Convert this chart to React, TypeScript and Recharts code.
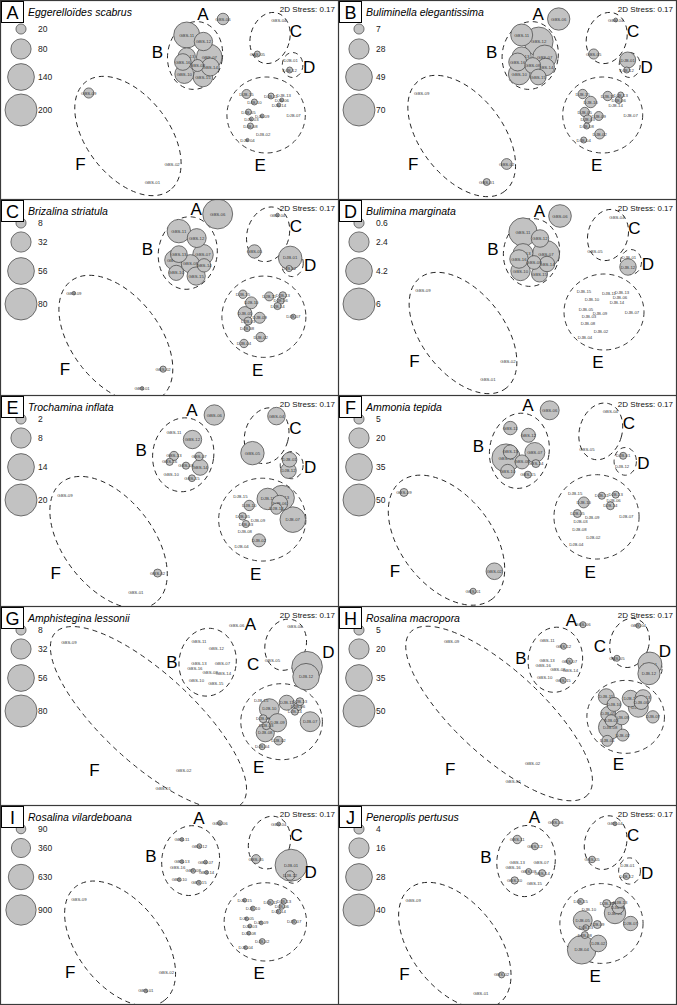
import React from "react";
import { ScatterChart, Scatter, XAxis, YAxis, ZAxis, ReferenceArea } from "recharts";

// nMDS sample coordinates (2D stress 0.17)
const samples = [
  "GBS-01", "GBS-02", "GBS-04", "GBS-05", "GBS-06", "GBS-07", "GBS-08", "GBS-09",
  "GBS-10", "GBS-11", "GBS-12", "GBS-13", "GBS-14", "GBS-15", "GBS-16",
  "DJB-01", "DJB-02", "DJB-03", "DJB-04", "DJB-05", "DJB-06", "DJB-07", "DJB-08",
  "DJB-09", "DJB-10", "DJB-11", "DJB-12", "DJB-13", "DJB-14", "DJB-15",
];
const mds1 = [
  -1.0, -0.6, 1.58, 1.14, 0.44, 0.16, -0.08, -2.3, -0.35, -0.3, 0.04, -0.3, 0.18, 0.03, -0.38,
  1.82, 1.26, 1.02, 0.94, 0.96, 1.64, 1.88, 1.0, 1.24, 1.08, 1.42, 1.8, 1.68, 1.58, 0.92,
];
const mds2 = [
  -1.58, -1.22, 1.66, 0.98, 1.68, 0.92, 0.75, 0.2, 0.58, 1.36, 1.23, 0.93, 0.72, 0.52, 0.82,
  0.86, -0.62, -0.32, -0.74, -0.18, 0.06, -0.24, -0.46, -0.26, 0.02, 0.14, 0.66, 0.16, -0.04, 0.18,
];

// abundances per species, same order as samples
const eggerelloidesScabrus = [0, 0, 0, 7, 26, 128, 28, 20, 70, 132, 66, 59, 63, 75, 54, 0, 0, 3, 2, 7, 3, 0, 7, 3, 7, 7, 7, 0, 3, 16];
const buliminellaElegantissima = [3.3, 8, 1, 7, 34, 39, 17, 0, 32, 33, 57, 25, 21, 17, 22, 17.5, 6.8, 4.4, 2.5, 6, 3.3, 0, 2.5, 5.5, 9, 6, 2.5, 2.5, 0, 6];
const brizalinaStriatula = [1, 3, 1, 14, 70, 33, 26, 1, 18, 43, 28, 22, 14, 26, 31, 43, 7, 5, 5.5, 15, 4, 2, 3, 9.5, 11, 6.3, 3, 4, 4, 5.5];
const buliminaMarginata = [0, 0, 0, 0, 3.0, 4.3, 1.1, 0, 2.2, 4.7, 1.8, 2.3, 1.4, 1.5, 2.0, 0, 0, 0, 0, 0, 0, 0, 0, 0, 0, 0, 1.6, 0, 0, 0];
const trochaminaInflata = [0, 1.25, 6, 10.7, 8.1, 1.4, 1, 0, 0, 0, 6.6, 1.6, 5, 0.9, 1, 4.2, 3.3, 1, 0, 1.1, 5, 12.8, 0, 0, 2.1, 9, 4.8, 12.2, 2.4, 0];
const ammoniaTepida = [1.8, 13.5, 0, 0, 17.6, 19.5, 9.6, 3.1, 9.6, 8.8, 9.6, 9.6, 3.1, 2.4, 39, 2.4, 0, 0, 0, 3.1, 0, 0, 0, 0, 5.9, 2.4, 0, 2.4, 3.1, 0];
const amphisteginaLessonii = [0, 0, 0, 0, 0, 0, 0, 0, 0, 0, 0, 0, 0, 0, 0, 73, 5.8, 5, 2.8, 5, 5, 31, 26, 26, 31, 17.6, 55, 5, 3.8, 0];
const rosalinaMacropora = [0, 0, 1.2, 1.8, 1.8, 1.8, 0, 0, 0, 0, 1.8, 0, 0, 1.8, 0, 28, 7, 7, 5.9, 11, 9.6, 7.5, 26.7, 9.6, 9.6, 13.5, 24, 12.5, 19.5, 12.5];
const rosalinaVilardeboana = [14, 0, 14, 78, 22, 14, 22, 0, 14, 14, 22, 14, 14, 22, 0, 1000, 32, 14, 14, 14, 32, 22, 14, 14, 22, 32, 88, 32, 22, 14];
const peneroplisPertusus = [0, 1.4, 0.6, 1.7, 2.1, 0, 1.4, 0, 2.1, 2.8, 1.9, 0, 1.9, 0, 0, 0, 10.8, 1.4, 32, 14, 5.6, 8.1, 1.9, 2.5, 0, 2.5, 1.7, 3.9, 18, 1.4];

// bubble legend steps
const legendEggerelloides = [20, 80, 140, 200];
const legendBuliminella = [7, 28, 49, 70];
const legendBrizalina = [8, 32, 56, 80];
const legendBulimina = [0.6, 2.4, 4.2, 6];
const legendTrochamina = [2, 8, 14, 20];
const legendAmmonia = [5, 20, 35, 50];
const legendAmphistegina = [8, 32, 56, 80];
const legendMacropora = [5, 20, 35, 50];
const legendVilardeboana = [90, 360, 630, 900];
const legendPeneroplis = [4, 16, 28, 40];

const groups = ["A", "B", "C", "D", "E", "F"];

// group letter placement (ordination units)
const letterSpots: Record<string, number[][]> = {
  main: [[0.03, 1.77], [-0.9, 1.02], [1.93, 1.44], [2.2, 0.72], [1.2, -1.24], [-2.47, -1.22]],
  g: [[0.71, 1.71], [-0.83, 0.95], [0.76, 0.91], [2.24, 1.15], [0.87, -1.15], [-2.35, -1.21]],
  h: [[0.2, 1.77], [-0.84, 0.98], [0.79, 1.22], [2.13, 1.13], [1.17, -1.23], [-2.3, -1.34]],
};

const hullsMain = [
  { cx: -0.13, cy: 0.95, rx: 0.56, ry: 0.68, angle: 8 },
  { cx: 1.4, cy: 1.3, rx: 0.4, ry: 0.52, angle: 16 },
  { cx: 1.86, cy: 0.76, rx: 0.21, ry: 0.25, angle: 0 },
  { cx: 1.32, cy: -0.24, rx: 0.8, ry: 0.76, angle: 0 },
  { cx: -1.5, cy: -0.66, rx: 1.4, ry: 0.82, angle: 52 },
];
const hullsAlt = [...hullsMain.slice(0, 4), { cx: -1.29, cy: -0.17, rx: 2.48, ry: 0.9, angle: 42.5 }];

const ROW_TOPS = [0, 199, 395, 606, 805, 1004];
const COL_LEFT = [0, 338];
const PANEL_W = 339;
const R_MAX = 16;
const FONT = "Arial, 'Liberation Sans', Helvetica, sans-serif";

type PanelCfg = {
  tag: string;
  species: string;
  values: number[];
  legend: number[];
  row: number;
  col: number;
  ax: number;
  ay: number;
  sx: number;
  sy: number;
  letters: string;
  alt?: boolean;
  gbs09?: number[];
};

const panels: PanelCfg[] = [
  { tag: "A", species: "Eggerelloïdes scabrus", values: eggerelloidesScabrus, legend: legendEggerelloides, row: 0, col: 0, ax: 223, ay: 19, sx: 0.98, sy: 1, letters: "main" },
  { tag: "B", species: "Buliminella elegantissima", values: buliminellaElegantissima, legend: legendBuliminella, row: 0, col: 1, ax: 220.7, ay: 19, sx: 1, sy: 1, letters: "main" },
  { tag: "C", species: "Brizalina striatula", values: brizalinaStriatula, legend: legendBrizalina, row: 1, col: 0, ax: 217.7, ay: 15, sx: 1.05, sy: 1.07, letters: "main" },
  { tag: "D", species: "Bulimina marginata", values: buliminaMarginata, legend: legendBulimina, row: 1, col: 1, ax: 222, ay: 17, sx: 1, sy: 1, letters: "main" },
  { tag: "E", species: "Trochamina inflata", values: trochaminaInflata, legend: legendTrochamina, row: 2, col: 0, ax: 214.3, ay: 20, sx: 1.09, sy: 1.09, letters: "main" },
  { tag: "F", species: "Ammonia tepida", values: ammoniaTepida, legend: legendAmmonia, row: 2, col: 1, ax: 211.7, ay: 15.3, sx: 1.064, sy: 1.11, letters: "main" },
  { tag: "G", species: "Amphistegina lessonii", values: amphisteginaLessonii, legend: legendAmphistegina, row: 3, col: 0, ax: 236.7, ay: 19.7, sx: 1.02, sy: 1, letters: "g", alt: true, gbs09: [-2.85, 1.35] },
  { tag: "H", species: "Rosalina macropora", values: rosalinaMacropora, legend: legendMacropora, row: 3, col: 1, ax: 245, ay: 18.7, sx: 0.97, sy: 0.96, letters: "h", alt: true, gbs09: [-2.27, 1.34] },
  { tag: "I", species: "Rosalina vilardeboana", values: rosalinaVilardeboana, legend: legendVilardeboana, row: 4, col: 0, ax: 220, ay: 18, sx: 1.03, sy: 1.03, letters: "main" },
  { tag: "J", species: "Peneroplis pertusus", values: peneroplisPertusus, legend: legendPeneroplis, row: 4, col: 1, ax: 217.7, ay: 17.7, sx: 1.04, sy: 1.05, letters: "main" },
];

function radiusOf(props: any) {
  if (typeof props.size === "number" && props.size > 0) return Math.sqrt(props.size / Math.PI);
  if (typeof props.width === "number" && props.width > 0) return props.width / 2;
  return 0;
}

function Bubble(props: any) {
  const { cx, cy, payload } = props;
  const r = radiusOf(props);
  return (
    <g>
      {r > 0.3 && <circle cx={cx} cy={cy} r={r} fill="#c2c2c2" stroke="#4a4a4a" strokeWidth={0.75} />}
      <text x={cx} y={cy} fontSize={4.3} fontFamily={FONT} textAnchor="middle" dominantBaseline="central" fill="#3a3a3a">
        {payload.name}
      </text>
    </g>
  );
}

function LegendBubble(props: any) {
  const { cx, cy, payload } = props;
  const r = radiusOf(props);
  return (
    <g>
      <circle cx={cx} cy={cy} r={r} fill="#c2c2c2" stroke="#4a4a4a" strokeWidth={0.75} />
      <text x={cx + 17} y={cy} fontSize={8.5} fontFamily={FONT} dominantBaseline="central" fill="#222">
        {payload.label}
      </text>
    </g>
  );
}

function GroupLetter(props: any) {
  const { cx, cy, payload } = props;
  return (
    <text x={cx} y={cy} fontSize={17} fontFamily={FONT} textAnchor="middle" dominantBaseline="central" fill="#000">
      {payload.letter}
    </text>
  );
}

function hullShape(angle: number) {
  return (p: any) => {
    const cx = p.x + p.width / 2;
    const cy = p.y + p.height / 2;
    return (
      <ellipse
        cx={cx}
        cy={cy}
        rx={p.width / 2}
        ry={p.height / 2}
        fill="none"
        stroke="#222"
        strokeWidth={0.9}
        strokeDasharray="5 4"
        transform={`rotate(${angle} ${cx} ${cy})`}
      />
    );
  };
}

function Panel({ p }: { p: PanelCfg }) {
  const left = COL_LEFT[p.col];
  const top = ROW_TOPS[p.row];
  const h = ROW_TOPS[p.row + 1] - top + 1;
  const w = PANEL_W;

  // pixel <-> ordination for this panel
  const toX = (px: number) => ((px - p.ax) / p.sx + 22) / 50;
  const toY = (py: number) => (84 - (py - p.ay) / p.sy) / 50;

  const points = samples
    .map((name, i) => {
      const moved = name === "GBS-09" && p.gbs09;
      return {
        name,
        x: moved ? p.gbs09![0] : mds1[i],
        y: moved ? p.gbs09![1] : mds2[i],
        z: p.values[i],
      };
    })
    .sort((a, b) => b.z - a.z);

  const legendRows = p.row === 0 ? [29, 49, 77, 110] : [24, 43, 72, 105];
  const legendPts = p.legend.map((v, i) => ({ x: toX(21), y: toY(legendRows[i]), z: v, label: String(v) }));

  const letterPts = groups.map((g, i) => ({ letter: g, x: letterSpots[p.letters][i][0], y: letterSpots[p.letters][i][1] }));
  const hulls = p.alt ? hullsAlt : hullsMain;

  return (
    <div style={{ position: "absolute", left, top, width: w, height: h }}>
      <ScatterChart width={w} height={h} margin={{ top: 0, right: 0, bottom: 0, left: 0 }}>
        <XAxis type="number" dataKey="x" domain={[toX(0), toX(w)]} hide allowDataOverflow />
        <YAxis type="number" dataKey="y" domain={[toY(h), toY(0)]} hide allowDataOverflow />
        <ZAxis type="number" dataKey="z" domain={[0, p.legend[3]]} range={[0, Math.PI * R_MAX * R_MAX]} />
        <Scatter data={points} shape={(s: any) => <Bubble {...s} />} isAnimationActive={false} />
        <Scatter data={legendPts} shape={(s: any) => <LegendBubble {...s} />} isAnimationActive={false} />
        {hulls.map((e, i) => (
          <ReferenceArea
            key={i}
            x1={e.cx - e.rx}
            x2={e.cx + e.rx}
            y1={e.cy - e.ry}
            y2={e.cy + e.ry}
            ifOverflow="visible"
            shape={hullShape(e.angle)}
          />
        ))}
        <Scatter data={letterPts} shape={(s: any) => <GroupLetter {...s} />} isAnimationActive={false} />
      </ScatterChart>
      <svg width={w} height={h} style={{ position: "absolute", left: 0, top: 0, pointerEvents: "none" }}>
        <rect x={1.5} y={1.5} width={22} height={21} fill="#fff" stroke="#000" strokeWidth={1} />
        <text x={12.5} y={12.5} fontSize={18} fontFamily={FONT} textAnchor="middle" dominantBaseline="central" fill="#000">
          {p.tag}
        </text>
        <text x={28} y={15.5} fontSize={10.5} fontStyle="italic" fontFamily={FONT} fill="#000">
          {p.species}
        </text>
        <text x={w - 4} y={11.5} fontSize={8} fontFamily={FONT} textAnchor="end" fill="#111">
          2D Stress: 0.17
        </text>
        <rect x={0.5} y={0.5} width={w - 1} height={h - 1} fill="none" stroke="#3a3a3a" strokeWidth={1.2} />
      </svg>
    </div>
  );
}

export default function App() {
  return (
    <div style={{ position: "absolute", left: 0, top: 0, width: 677, height: 1005, background: "#fff", overflow: "hidden" }}>
      {panels.map((p) => (
        <Panel key={p.tag} p={p} />
      ))}
    </div>
  );
}
